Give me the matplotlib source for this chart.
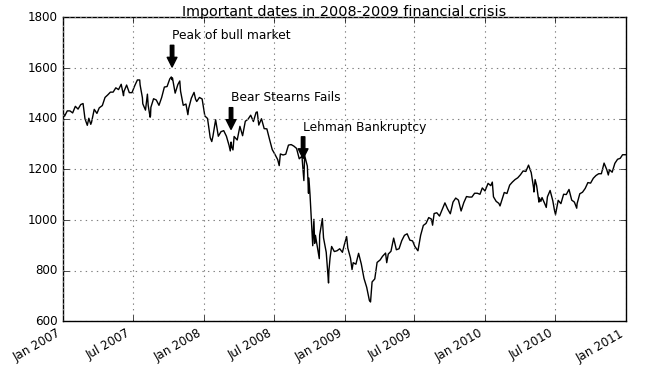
import pandas as pd
import matplotlib
matplotlib.use("Agg")
import matplotlib.pyplot as plt
import matplotlib.dates as mdates

# S&P 500 closes (roughly weekly, plus the turning points)
dates_2007 = [
    "2007-01-03", "2007-01-05", "2007-01-12", "2007-01-19", "2007-01-26", "2007-02-02",
    "2007-02-09", "2007-02-16", "2007-02-22", "2007-02-27", "2007-03-02", "2007-03-05",
    "2007-03-09", "2007-03-14", "2007-03-16", "2007-03-23", "2007-03-30", "2007-04-05",
    "2007-04-13", "2007-04-20", "2007-04-27", "2007-05-04", "2007-05-11", "2007-05-18",
    "2007-05-25", "2007-06-01", "2007-06-07", "2007-06-08", "2007-06-15", "2007-06-22",
    "2007-06-29", "2007-07-06", "2007-07-13", "2007-07-19", "2007-07-20", "2007-07-26",
    "2007-07-27", "2007-08-03", "2007-08-08", "2007-08-10", "2007-08-15", "2007-08-16",
    "2007-08-17", "2007-08-24", "2007-08-31", "2007-09-07", "2007-09-14", "2007-09-21",
    "2007-09-28", "2007-10-05", "2007-10-09", "2007-10-11", "2007-10-12", "2007-10-19",
    "2007-10-26", "2007-10-31", "2007-11-02", "2007-11-09", "2007-11-16", "2007-11-21",
    "2007-11-23", "2007-11-30", "2007-12-07", "2007-12-11", "2007-12-14", "2007-12-21",
    "2007-12-28",
]
close_2007 = [
    1417, 1410, 1431, 1431, 1423, 1449,
    1438, 1456, 1460, 1400, 1387, 1374,
    1402, 1378, 1386, 1437, 1421, 1443,
    1452, 1484, 1494, 1505, 1505, 1522,
    1515, 1536, 1491, 1507, 1533, 1503,
    1503, 1530, 1553, 1553, 1534, 1483,
    1459, 1434, 1497, 1453, 1406, 1411,
    1445, 1479, 1474, 1453, 1484, 1525,
    1527, 1557, 1565, 1554, 1561, 1501,
    1535, 1549, 1509, 1453, 1458, 1416,
    1440, 1481, 1504, 1477, 1468, 1484,
    1478,
]

dates_2008 = [
    "2008-01-04", "2008-01-11", "2008-01-18", "2008-01-22", "2008-01-25", "2008-02-01",
    "2008-02-08", "2008-02-15", "2008-02-22", "2008-02-29", "2008-03-07", "2008-03-10",
    "2008-03-12", "2008-03-14", "2008-03-17", "2008-03-20", "2008-03-28", "2008-04-04",
    "2008-04-11", "2008-04-18", "2008-04-25", "2008-05-02", "2008-05-09", "2008-05-16",
    "2008-05-19", "2008-05-23", "2008-05-30", "2008-06-06", "2008-06-13", "2008-06-20",
    "2008-06-27", "2008-07-03", "2008-07-11", "2008-07-15", "2008-07-18", "2008-07-25",
    "2008-08-01", "2008-08-08", "2008-08-15", "2008-08-22", "2008-08-29", "2008-09-05",
    "2008-09-12", "2008-09-15", "2008-09-17", "2008-09-19", "2008-09-26", "2008-09-29",
    "2008-09-30", "2008-10-03", "2008-10-10", "2008-10-13", "2008-10-15", "2008-10-17",
    "2008-10-24", "2008-10-27", "2008-10-28", "2008-10-31", "2008-11-04", "2008-11-07",
    "2008-11-14", "2008-11-20", "2008-11-21", "2008-11-24", "2008-11-28", "2008-12-05",
    "2008-12-12", "2008-12-19", "2008-12-26", "2008-12-31",
]
close_2008 = [
    1411, 1401, 1325, 1310, 1331, 1396,
    1331, 1349, 1353, 1331, 1294, 1273,
    1308, 1288, 1277, 1330, 1316, 1370,
    1333, 1390, 1398, 1414, 1389, 1425,
    1427, 1375, 1400, 1361, 1360, 1318,
    1278, 1262, 1239, 1215, 1261, 1257,
    1260, 1296, 1298, 1292, 1283, 1242,
    1252, 1193, 1156, 1255, 1213, 1106,
    1166, 1099, 899, 1003, 908, 940,
    877, 848, 941, 968, 1006, 930,
    873, 752, 800, 852, 896, 876,
    879, 887, 873, 903,
]

dates_2009 = [
    "2009-01-06", "2009-01-09", "2009-01-16", "2009-01-20", "2009-01-23", "2009-01-30",
    "2009-02-06", "2009-02-13", "2009-02-20", "2009-02-27", "2009-03-06", "2009-03-09",
    "2009-03-13", "2009-03-20", "2009-03-26", "2009-04-03", "2009-04-09", "2009-04-17",
    "2009-04-20", "2009-04-24", "2009-05-01", "2009-05-08", "2009-05-15", "2009-05-22",
    "2009-05-29", "2009-06-05", "2009-06-12", "2009-06-19", "2009-06-26", "2009-07-02",
    "2009-07-10", "2009-07-17", "2009-07-24", "2009-07-31", "2009-08-07", "2009-08-14",
    "2009-08-17", "2009-08-21", "2009-08-28", "2009-09-04", "2009-09-11", "2009-09-18",
    "2009-09-25", "2009-10-02", "2009-10-09", "2009-10-16", "2009-10-23", "2009-10-30",
    "2009-11-06", "2009-11-13", "2009-11-20", "2009-11-27", "2009-12-04", "2009-12-11",
    "2009-12-18", "2009-12-24", "2009-12-31",
]
close_2009 = [
    935, 890, 850, 805, 832, 826,
    869, 827, 770, 735, 683, 677,
    756, 768, 833, 843, 857, 870,
    832, 866, 877, 929, 883, 887,
    919, 940, 946, 921, 918, 896,
    879, 940, 979, 987, 1010, 1004,
    980, 1026, 1029, 1016, 1042, 1068,
    1044, 1025, 1071, 1087, 1079, 1036,
    1069, 1093, 1091, 1091, 1106, 1106,
    1102, 1127, 1115,
]

dates_2010 = [
    "2010-01-08", "2010-01-15", "2010-01-19", "2010-01-22", "2010-01-29", "2010-02-05",
    "2010-02-08", "2010-02-12", "2010-02-19", "2010-02-26", "2010-03-05", "2010-03-12",
    "2010-03-19", "2010-03-26", "2010-04-02", "2010-04-09", "2010-04-16", "2010-04-23",
    "2010-04-30", "2010-05-06", "2010-05-07", "2010-05-10", "2010-05-14", "2010-05-20",
    "2010-05-21", "2010-05-25", "2010-05-28", "2010-06-04", "2010-06-08", "2010-06-11",
    "2010-06-18", "2010-06-25", "2010-06-29", "2010-07-02", "2010-07-09", "2010-07-16",
    "2010-07-23", "2010-07-30", "2010-08-06", "2010-08-13", "2010-08-20", "2010-08-26",
    "2010-08-27", "2010-09-03", "2010-09-10", "2010-09-17", "2010-09-24", "2010-10-01",
    "2010-10-08", "2010-10-15", "2010-10-22", "2010-10-29", "2010-11-05", "2010-11-12",
    "2010-11-16", "2010-11-19", "2010-11-26", "2010-12-03", "2010-12-10", "2010-12-17",
    "2010-12-23", "2010-12-31",
]
close_2010 = [
    1145, 1136, 1150, 1092, 1074, 1066,
    1056, 1075, 1109, 1105, 1138, 1150,
    1160, 1167, 1179, 1194, 1192, 1217,
    1187, 1128, 1111, 1160, 1136, 1071,
    1088, 1074, 1089, 1065, 1050, 1092,
    1117, 1076, 1041, 1022, 1078, 1065,
    1102, 1101, 1121, 1079, 1071, 1047,
    1065, 1104, 1110, 1125, 1148, 1146,
    1165, 1176, 1183, 1183, 1225, 1199,
    1178, 1199, 1189, 1224, 1240, 1244,
    1258, 1258,
]

crisis_dates = ["2007-10-11", "2008-03-12", "2008-09-15"]
crisis_labels = ["Peak of bull market", "Bear Stearns Fails", "Lehman Bankruptcy"]

spx = pd.Series(
    close_2007 + close_2008 + close_2009 + close_2010,
    index=pd.to_datetime(dates_2007 + dates_2008 + dates_2009 + dates_2010),
)

plt.style.use("classic")
fig = plt.figure(figsize=(6.45, 3.68), dpi=100, facecolor="white")
ax = fig.add_axes([0.0977, 0.1264, 0.8729, 0.8264])

ax.plot(spx.index, spx.values, "k-", linewidth=1.0)

# arrow tip 50 above the price, label top 200 above
for date, label in zip(pd.to_datetime(crisis_dates), crisis_labels):
    ax.annotate(label, xy=(date, spx.asof(date) + 50),
                xytext=(date, spx.asof(date) + 200),
                arrowprops=dict(facecolor="black", headwidth=7, width=2.5, headlength=7),
                horizontalalignment="left", verticalalignment="top", fontsize=8.8)

ax.set_xlim(pd.Timestamp("2007-01-01"), pd.Timestamp("2011-01-01"))
ax.set_ylim(600, 1800)
ax.xaxis.set_major_locator(mdates.MonthLocator(bymonth=[1, 7]))
ax.xaxis.set_major_formatter(mdates.DateFormatter("%b %Y"))
ax.grid(True, color="gray", linestyle=":", linewidth=0.8)
ax.tick_params(labelsize=8.6)
for lbl in ax.get_xticklabels():
    lbl.set_rotation(30)
    lbl.set_horizontalalignment("right")
ax.set_title("Important dates in 2008-2009 financial crisis", fontsize=10.4, pad=1)

fig.savefig("out.png", dpi=100, facecolor="white")
